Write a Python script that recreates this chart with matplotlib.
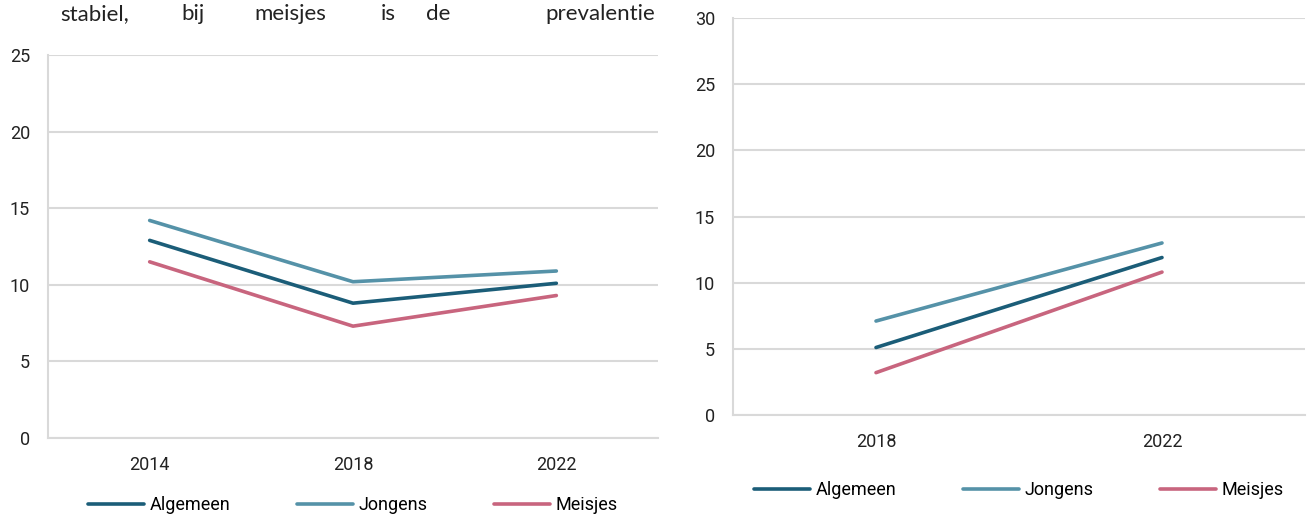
import matplotlib.pyplot as plt

# data
years_left = ["2014", "2018", "2022"]
algemeen_left = [12.9, 8.8, 10.1]
jongens_left = [14.2, 10.2, 10.9]
meisjes_left = [11.5, 7.3, 9.3]

years_right = ["2018", "2022"]
algemeen_right = [5.1, 11.9]
jongens_right = [7.1, 13.0]
meisjes_right = [3.2, 10.8]

series_names = ["Algemeen", "Jongens", "Meisjes"]
colors = ["#1b5d78", "#5592a8", "#c8657e"]
grid_col = "#d9d9d9"

plt.rcParams["font.family"] = ["Roboto", "DejaVu Sans"]

fig = plt.figure(figsize=(13.08, 5.17), dpi=100)

ax1 = fig.add_axes([48 / 1308, 1 - 438 / 517, 610 / 1308, 383 / 517])
ax2 = fig.add_axes([733 / 1308, 1 - 415 / 517, 572 / 1308, 397 / 517])


def style(ax, ymax, legend_y):
    ax.set_ylim(0, ymax)
    ax.set_yticks(range(0, ymax + 1, 5))
    ax.grid(axis="y", color=grid_col, lw=1.5)
    ax.set_axisbelow(True)
    for s in ["top", "right"]:
        ax.spines[s].set_visible(False)
    for s in ["left", "bottom"]:
        ax.spines[s].set_color(grid_col)
        ax.spines[s].set_linewidth(1.5)
    ax.tick_params(length=0, labelsize=13, colors="#222222")
    ax.tick_params(axis="y", pad=13)
    ax.tick_params(axis="x", pad=13)
    ax.legend(loc="upper center", bbox_to_anchor=(0.5, legend_y), ncol=3,
              frameon=False, fontsize=13, handlelength=3.1, handletextpad=0.3,
              columnspacing=3.7)


for ax, years, data in [
    (ax1, years_left, [algemeen_left, jongens_left, meisjes_left]),
    (ax2, years_right, [algemeen_right, jongens_right, meisjes_right]),
]:
    x = list(range(len(years)))
    for name, vals, c in zip(series_names, data, colors):
        ax.plot(x, vals, color=c, lw=2.6, label=name, solid_capstyle="round")
    ax.set_xlim(-0.5, len(years) - 0.5)
    ax.set_xticks(x)
    ax.set_xticklabels(years)

style(ax1, 25, -0.11)
style(ax2, 30, -0.125)

# line of body text above the left chart (justified in the source)
words = [("stabiel,", 60, "left"), ("bij", 193, "center"), ("meisjes", 290, "center"),
         ("is", 388, "center"), ("de", 438, "center"), ("prevalentie", 655, "right")]
for w, xp, al in words:
    fig.text(xp / 1308, 1 - 20 / 517, w, fontsize=16, color="#222222",
             family=["Lato", "DejaVu Sans"], ha=al, va="baseline")

fig.savefig("out.png", dpi=100)
